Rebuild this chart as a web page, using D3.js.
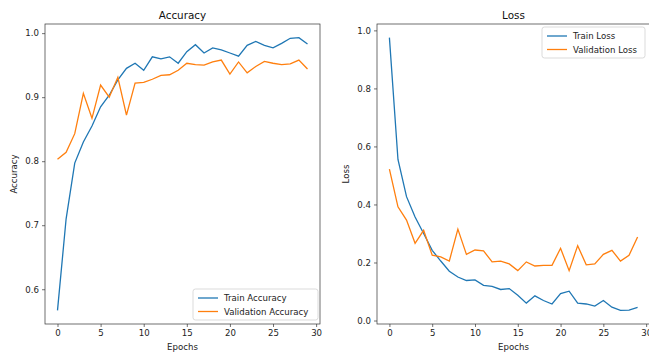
<!DOCTYPE html>
<html><head><meta charset="utf-8">
<script src="https://cdn.jsdelivr.net/npm/d3@7/dist/d3.min.js"></script>
<style>
html,body{margin:0;padding:0;background:#fff;}
svg{display:block;font-family:"DejaVu Sans",sans-serif;}
</style></head>
<body><svg id="chart" width="649" height="353"></svg>
<script>
const epochs = d3.range(0, 30);
const trainAccuracy = [0.567,0.71,0.797,0.83,0.855,0.885,0.903,0.927,0.945,0.953,0.942,0.963,0.960,0.963,0.953,0.971,0.982,0.969,0.977,0.974,0.969,0.964,0.981,0.987,0.981,0.977,0.984,0.992,0.993,0.983];
const valAccuracy = [0.803,0.814,0.843,0.906,0.867,0.919,0.900,0.931,0.872,0.922,0.923,0.928,0.934,0.935,0.942,0.953,0.951,0.950,0.955,0.958,0.936,0.955,0.938,0.948,0.956,0.953,0.951,0.952,0.958,0.944];
const trainLoss = [0.975,0.555,0.427,0.357,0.300,0.242,0.205,0.170,0.150,0.138,0.140,0.121,0.118,0.107,0.110,0.087,0.060,0.085,0.069,0.057,0.093,0.101,0.060,0.057,0.050,0.069,0.046,0.035,0.036,0.045];
const valLoss = [0.522,0.392,0.346,0.266,0.311,0.225,0.219,0.205,0.315,0.228,0.243,0.240,0.202,0.205,0.195,0.172,0.202,0.188,0.190,0.190,0.249,0.172,0.258,0.192,0.195,0.228,0.242,0.205,0.225,0.288];
const xTicks = [0,5,10,15,20,25,30];
const accTicks = [0.6,0.7,0.8,0.9,1.0];
const lossTicks = [0.0,0.2,0.4,0.6,0.8,1.0];

const svg = d3.select("#chart");
const C1 = "#1f77b4", C2 = "#ff7f0e";
const FS = 8.6;

function panel(opts){
  const {x0,x1,y0,y1,s1,s2,yTicks,title,ylabel,names,legendPos} = opts;
  const xs = d3.scaleLinear().domain([-1.45, 30.45]).range([x0,x1]);
  const all = s1.concat(s2);
  const [mn,mx] = d3.extent(all);
  const pad = (mx-mn)*0.05;
  const ys = d3.scaleLinear().domain([mn-pad, mx+pad]).range([y1,y0]);
  const g = svg.append("g");
  const line = d3.line().x((d,i)=>xs(epochs[i])).y(d=>ys(d));
  g.append("path").datum(s1).attr("d",line).attr("fill","none").attr("stroke",C1).attr("stroke-width",1.3);
  g.append("path").datum(s2).attr("d",line).attr("fill","none").attr("stroke",C2).attr("stroke-width",1.3);
  // axes
  const xa = d3.axisBottom(xs).tickValues(xTicks).tickFormat(d3.format("d")).tickSize(3).tickPadding(3);
  const ya = d3.axisLeft(ys).tickValues(yTicks).tickFormat(d3.format(".1f")).tickSize(3).tickPadding(3);
  const gx = g.append("g").attr("transform",`translate(0,${y1})`).call(xa);
  const gy = g.append("g").attr("transform",`translate(${x0},0)`).call(ya);
  [gx,gy].forEach(a=>{
    a.select(".domain").remove();
    a.selectAll("line").attr("stroke","#333").attr("stroke-width",0.7);
    a.selectAll("text").attr("font-size",FS).attr("fill","#222").attr("font-family","DejaVu Sans");
  });
  g.append("rect").attr("x",x0).attr("y",y0).attr("width",x1-x0).attr("height",y1-y0)
    .attr("fill","none").attr("stroke","#333").attr("stroke-width",0.7);
  g.append("text").attr("x",(x0+x1)/2).attr("y",y0-5).attr("text-anchor","middle")
    .attr("font-size",10.4).attr("fill","#111").text(title);
  g.append("text").attr("x",(x0+x1)/2).attr("y",y1+26).attr("text-anchor","middle")
    .attr("font-size",FS).attr("fill","#222").text("Epochs");
  const yc=(y0+y1)/2, xl=x0-28;
  g.append("text").attr("transform",`translate(${xl},${yc}) rotate(-90)`).attr("text-anchor","middle")
    .attr("font-size",FS).attr("fill","#222").text(ylabel);
  // legend
  const lg = g.append("g").attr("transform",`translate(${legendPos[0]},${legendPos[1]})`);
  const w = legendPos[2], h = 31;
  lg.append("rect").attr("width",w).attr("height",h).attr("rx",2.5).attr("fill","#fff").attr("fill-opacity",0.8)
    .attr("stroke","#ccc").attr("stroke-width",0.7);
  [[C1,names[0]],[C2,names[1]]].forEach((d,i)=>{
    const yy = 9 + i*13.5;
    lg.append("line").attr("x1",5).attr("x2",25).attr("y1",yy).attr("y2",yy).attr("stroke",d[0]).attr("stroke-width",1.3);
    lg.append("text").attr("x",31).attr("y",yy).attr("dy","0.35em").attr("font-size",FS).attr("fill","#222").text(d[1]);
  });
}

panel({x0:45,x1:320,y0:24,y1:324,s1:trainAccuracy,s2:valAccuracy,yTicks:accTicks,title:"Accuracy",ylabel:"Accuracy",
  names:["Train Accuracy","Validation Accuracy"],legendPos:[193,289,125]});
panel({x0:377,x1:650,y0:24,y1:324,s1:trainLoss,s2:valLoss,yTicks:lossTicks,title:"Loss",ylabel:"Loss",
  names:["Train Loss","Validation Loss"],legendPos:[542,27,103]});
</script></body></html>
